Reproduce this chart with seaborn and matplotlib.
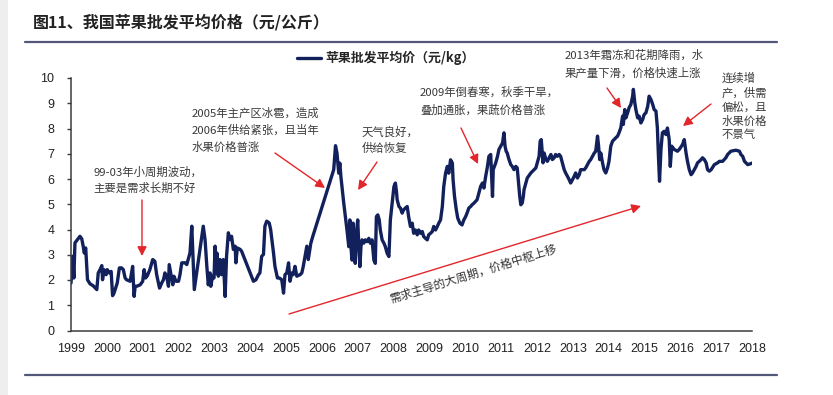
import numpy as np
import pandas as pd
import matplotlib
matplotlib.use("Agg")
import matplotlib.pyplot as plt
import seaborn as sns
from matplotlib.lines import Line2D
from matplotlib.patches import Rectangle
from matplotlib.font_manager import FontProperties

# ---------------- data (year fraction, price yuan/kg) ----------------
yr_9901 = [1999.00, 1999.05, 1999.08, 1999.11, 1999.18, 1999.25, 1999.30, 1999.34, 1999.37, 1999.41,
           1999.46, 1999.53, 1999.62, 1999.72, 1999.76, 1999.81, 1999.86, 1999.88, 1999.92, 1999.98,
           2000.01, 2000.07, 2000.12, 2000.16, 2000.20, 2000.26, 2000.29, 2000.35, 2000.41, 2000.46,
           2000.51, 2000.55, 2000.65, 2000.72, 2000.76, 2000.79, 2000.83, 2000.93, 2001.00, 2001.04,
           2001.08, 2001.13, 2001.20, 2001.28, 2001.34, 2001.39, 2001.47, 2001.53, 2001.58, 2001.62,
           2001.67, 2001.72, 2001.74, 2001.78, 2001.84, 2001.87, 2001.93]
px_9901 = [1.88, 2.94, 2.08, 3.47, 3.60, 3.73, 3.63, 3.34, 3.07, 3.27,
           2.01, 1.85, 1.77, 1.62, 2.28, 2.41, 2.57, 2.01, 2.41, 2.21,
           2.41, 2.28, 2.34, 1.38, 1.48, 1.75, 1.88, 2.48, 2.48, 2.41,
           2.08, 2.01, 1.95, 2.54, 1.35, 1.75, 1.75, 1.81, 1.95, 2.41,
           2.08, 2.17, 2.41, 2.81, 2.74, 2.21, 1.68, 1.88, 2.01, 2.28,
           2.15, 1.75, 2.61, 2.28, 1.81, 2.15, 1.95]

yr_0204 = [2002.00, 2002.04, 2002.09, 2002.18, 2002.23, 2002.27, 2002.32, 2002.37, 2002.44,
           2002.69, 2002.74, 2002.79, 2002.83, 2002.88, 2002.90, 2002.95, 2002.99,
           2003.02, 2003.05, 2003.07, 2003.11, 2003.16, 2003.20, 2003.25, 2003.30, 2003.34, 2003.39,
           2003.44, 2003.48, 2003.53, 2003.58, 2003.60, 2003.64, 2003.72, 2003.76, 2004.09, 2004.16,
           2004.23, 2004.27, 2004.32, 2004.37, 2004.41, 2004.46, 2004.53, 2004.57, 2004.65, 2004.69,
           2004.76, 2004.81, 2004.88, 2004.93, 2004.97]
px_0204 = [1.95, 2.21, 2.68, 2.68, 2.61, 2.81, 3.07, 4.13, 1.62,
           4.13, 3.60, 2.54, 1.81, 2.28, 1.75, 2.15, 2.08,
           3.34, 2.28, 3.07, 2.15, 2.81, 2.21, 2.81, 1.35, 2.94, 3.87,
           3.60, 3.73, 3.21, 3.34, 2.68, 3.27, 3.21, 3.14, 1.95, 2.01,
           2.21, 2.28, 2.94, 3.01, 4.13, 4.33, 4.26, 4.00, 3.07, 2.54,
           2.08, 2.08, 2.01, 1.48, 2.21]

yr_0508 = [2005.02, 2005.07, 2005.11, 2005.16, 2005.20, 2005.25, 2005.30, 2005.39, 2005.44, 2005.48,
           2005.53, 2005.58, 2005.62, 2005.69, 2005.74, 2006.33, 2006.38, 2006.42, 2006.47, 2006.50,
           2006.53, 2006.61, 2006.70, 2006.75, 2006.78, 2006.81, 2006.84, 2006.87, 2006.91, 2006.93,
           2006.96, 2007.00, 2007.03, 2007.06, 2007.09, 2007.12, 2007.17, 2007.21, 2007.26, 2007.31,
           2007.35, 2007.40, 2007.45, 2007.49, 2007.52, 2007.56, 2007.60, 2007.63, 2007.68, 2007.73,
           2007.77, 2007.82, 2007.87, 2007.91, 2007.96, 2008.01, 2008.05, 2008.08, 2008.10, 2008.15,
           2008.19, 2008.24, 2008.28, 2008.33, 2008.38, 2008.42, 2008.47, 2008.52, 2008.56, 2008.61,
           2008.66, 2008.70, 2008.75, 2008.80, 2008.84, 2008.89, 2008.94, 2008.98]
px_0508 = [2.28, 2.68, 1.95, 2.28, 2.21, 2.54, 2.15, 2.21, 2.28, 2.54,
           2.94, 3.34, 2.81, 3.45, 3.70, 6.37, 7.32, 7.03, 6.23, 6.63,
           6.10, 5.04, 3.98, 3.32, 4.38, 3.32, 2.79, 4.25, 3.06, 2.66,
           3.85, 4.38, 3.32, 2.53, 3.32, 3.59, 3.46, 3.59, 3.52, 3.65,
           3.46, 3.59, 2.79, 2.66, 4.51, 4.58, 4.38, 3.98, 3.59, 3.46,
           3.32, 3.06, 2.93, 4.38, 5.04, 5.70, 5.84, 5.51, 5.18, 4.91,
           4.85, 4.65, 4.78, 4.85, 4.91, 4.51, 4.12, 4.25, 3.85, 3.98,
           3.79, 3.98, 3.85, 3.92, 3.72, 3.65, 3.59, 3.79]

yr_0911 = [2009.03, 2009.08, 2009.12, 2009.17, 2009.22, 2009.26, 2009.31, 2009.36, 2009.40, 2009.45,
           2009.50, 2009.54, 2009.59, 2009.64, 2009.66, 2009.70, 2009.75, 2009.79, 2009.85, 2009.91,
           2009.96, 2010.01, 2010.05, 2010.10, 2010.15, 2010.19, 2010.24, 2010.33, 2010.43, 2010.48,
           2010.52, 2010.57, 2010.62, 2010.66, 2010.71, 2010.76, 2010.78, 2010.85, 2010.90, 2010.94,
           2010.99, 2011.04, 2011.08, 2011.11, 2011.14, 2011.17, 2011.22, 2011.27, 2011.31, 2011.36,
           2011.41, 2011.45, 2011.48, 2011.52, 2011.55, 2011.59, 2011.62, 2011.64, 2011.69, 2011.73,
           2011.83, 2011.92, 2011.97]
px_0911 = [3.85, 3.92, 4.12, 3.98, 4.12, 4.25, 4.38, 4.91, 5.70, 6.23,
           6.50, 6.23, 6.76, 6.63, 5.97, 5.31, 4.78, 4.45, 4.25, 4.18,
           4.38, 4.51, 4.65, 4.85, 4.91, 4.98, 5.04, 5.18, 5.71, 5.84,
           5.64, 6.11, 6.50, 6.90, 6.97, 5.31, 6.37, 6.64, 6.90, 7.17,
           7.30, 7.43, 7.83, 7.30, 7.10, 7.03, 6.77, 6.57, 6.50, 6.37,
           6.50, 6.44, 5.97, 5.31, 4.98, 5.05, 5.31, 5.58, 5.84, 6.04,
           6.24, 6.37, 6.44]

yr_1214 = [2012.01, 2012.06, 2012.09, 2012.12, 2012.14, 2012.17, 2012.20, 2012.25, 2012.29, 2012.34,
           2012.39, 2012.43, 2012.48, 2012.52, 2012.57, 2012.62, 2012.66, 2012.71, 2012.76, 2012.80,
           2012.85, 2012.90, 2012.94, 2012.99, 2013.04, 2013.08, 2013.13, 2013.18, 2013.22, 2013.32,
           2013.36, 2013.41, 2013.46, 2013.50, 2013.55, 2013.60, 2013.64, 2013.69, 2013.72, 2013.75,
           2013.78, 2013.83, 2013.87, 2013.92, 2013.97, 2014.01, 2014.06, 2014.11, 2014.15, 2014.20,
           2014.25, 2014.29, 2014.34, 2014.39, 2014.41, 2014.45, 2014.48, 2014.53, 2014.57, 2014.62,
           2014.67, 2014.69, 2014.73, 2014.76, 2014.81, 2014.85, 2014.90, 2014.95, 2014.99]
px_1214 = [6.64, 6.90, 7.50, 7.56, 7.17, 6.64, 7.03, 6.77, 6.70, 6.84,
           6.97, 6.77, 6.84, 6.97, 6.90, 6.97, 6.90, 6.64, 6.37, 6.24,
           6.11, 5.97, 5.84, 5.97, 6.11, 6.24, 6.04, 6.17, 6.37, 6.37,
           6.44, 6.57, 6.70, 6.77, 6.90, 7.03, 7.10, 7.70, 7.30, 6.77,
           7.03, 6.64, 6.37, 6.24, 6.44, 6.70, 7.30, 7.50, 7.56, 7.63,
           7.70, 7.83, 8.03, 8.49, 8.16, 8.75, 8.42, 8.62, 8.82, 8.95,
           9.28, 9.55, 9.02, 8.75, 8.42, 8.49, 8.22, 8.36, 8.55]

yr_1518 = [2015.04, 2015.09, 2015.13, 2015.18, 2015.23, 2015.27, 2015.32, 2015.36, 2015.39, 2015.42,
           2015.46, 2015.50, 2015.55, 2015.60, 2015.64, 2015.69, 2015.72, 2015.76, 2015.83, 2015.92,
           2015.97, 2016.06, 2016.11, 2016.16, 2016.20, 2016.25, 2016.30, 2016.34, 2016.39, 2016.44,
           2016.48, 2016.53, 2016.58, 2016.62, 2016.67, 2016.72, 2016.76, 2016.81, 2016.86, 2016.95,
           2017.04, 2017.09, 2017.18, 2017.27, 2017.32, 2017.41, 2017.55, 2017.65, 2017.69, 2017.74,
           2017.79, 2017.88, 2017.97, 2018.02]
px_1518 = [8.62, 8.88, 9.28, 9.15, 8.95, 8.75, 8.69, 8.03, 6.90, 5.91,
           7.17, 7.83, 7.89, 7.76, 8.02, 7.56, 6.50, 7.30, 7.17, 7.10,
           7.17, 7.36, 7.56, 7.03, 6.70, 6.37, 6.17, 6.24, 6.37, 6.50,
           6.64, 6.70, 6.77, 6.84, 6.77, 6.64, 6.37, 6.31, 6.37, 6.57,
           6.64, 6.70, 6.70, 6.84, 6.97, 7.10, 7.14, 7.10, 6.97, 6.90,
           6.70, 6.57, 6.61, 6.64]

year_ticks = list(range(1999, 2019))
price_ticks = list(range(0, 11))

TITLE = "图11、我国苹果批发平均价格（元/公斤）"
LEGEND = "苹果批发平均价（元/kg）"
NOTE_9903 = ["99-03年小周期波动，", "主要是需求长期不好"]
NOTE_2005 = ["2005年主产区冰雹，造成", "2006年供给紧张，且当年", "水果价格普涨"]
NOTE_2007 = ["天气良好，", "供给恢复"]
NOTE_2009 = ["2009年倒春寒，秋季干旱，", "叠加通胀，果蔬价格普涨"]
NOTE_2013 = ["2013年霜冻和花期降雨，水", "果产量下滑，价格快速上涨"]
NOTE_2016 = ["连续增", "产，供需", "偏松，且", "水果价格", "不景气"]
NOTE_TREND = "需求主导的大周期，价格中枢上移"

# ---------------- style ----------------
sns.set_theme(style="white")
CJK = ["Noto Sans CJK SC", "DejaVu Sans"]
plt.rcParams["font.family"] = CJK

NAVY = "#12215c"
RED = "#e3262b"
RULE = "#53577a"
TXT = "#3a3a3a"

W, H = 833, 395
fig = plt.figure(figsize=(W / 100, H / 100), dpi=100)
fig.patch.set_facecolor("white")


def fx(x):
    return x / W


def fy(y):
    return 1 - y / H


# light strip at left edge
fig.add_artist(Rectangle((0, 0), fx(8), 1, transform=fig.transFigure,
                         facecolor="#eeeeee", edgecolor="none", zorder=0))

ax = fig.add_axes([fx(71), fy(330.5), fx(752 - 71), (330.5 - 78) / H])
ax.set_facecolor("none")

years = yr_9901 + yr_0204 + yr_0508 + yr_0911 + yr_1214 + yr_1518
prices = px_9901 + px_0204 + px_0508 + px_0911 + px_1214 + px_1518
df = pd.DataFrame({"year": years, "price": prices})

sns.lineplot(data=df, x="year", y="price", ax=ax, sort=False, estimator=None,
             color=NAVY, linewidth=2.4, legend=False)
for ln in ax.lines:
    ln.set_solid_joinstyle("round")
    ln.set_solid_capstyle("round")

ax.set_xlim(1999, 2018)
ax.set_ylim(0, 10)
ax.set_xticks(year_ticks)
ax.set_xticklabels([str(y) for y in year_ticks])
ax.set_yticks(price_ticks)
ax.set_yticklabels([str(v) for v in price_ticks])
ax.set_xlabel("")
ax.set_ylabel("")
for s in ["top", "right"]:
    ax.spines[s].set_visible(False)
for s in ["left", "bottom"]:
    ax.spines[s].set_color("#3c3c3c")
    ax.spines[s].set_linewidth(1.1)
ax.tick_params(axis="x", direction="in", length=4, width=1, color="#3c3c3c",
               pad=9, labelsize=9, labelcolor="#222222")
ax.tick_params(axis="y", direction="out", length=3, width=1, color="#3c3c3c",
               pad=9, labelsize=9, labelcolor="#222222", left=True)
for lab in ax.get_xticklabels() + ax.get_yticklabels():
    lab.set_fontfamily("Liberation Sans")
ax.grid(False)

# legend
ax.legend(handles=[Line2D([], [], color=NAVY, lw=2.4)], labels=[LEGEND],
          loc="center", bbox_to_anchor=(fx(386), fy(58)), bbox_transform=fig.transFigure,
          frameon=False, handlelength=1.9, handletextpad=0.35, borderpad=0,
          prop=FontProperties(family=CJK, weight="bold", size=9.3))

# title and rules
fig.text(fx(33), fy(22), TITLE, ha="left", va="center", fontsize=11.5,
         fontweight="bold", color="#222222", family=CJK)
fig.add_artist(Line2D([fx(25), fx(777)], [fy(41.5), fy(41.5)], transform=fig.transFigure,
                      color=RULE, lw=1.6))
fig.add_artist(Line2D([fx(25), fx(777)], [fy(374.5), fy(374.5)], transform=fig.transFigure,
                      color=RULE, lw=1.6))


def note(x, ys, lines, size=8.2):
    for yy, t in zip(ys, lines):
        fig.text(fx(x), fy(yy), t, ha="left", va="center", fontsize=size,
                 color=TXT, family=CJK)


def arrow(x0, y0, x1, y1):
    ax.annotate("", xy=(fx(x1), fy(y1)), xytext=(fx(x0), fy(y0)),
                xycoords="figure fraction", textcoords="figure fraction",
                arrowprops=dict(arrowstyle="-|>,head_length=0.55,head_width=0.28",
                                color=RED, lw=1.0, mutation_scale=10,
                                shrinkA=0, shrinkB=0))


note(93, [172.5, 188], NOTE_9903)
arrow(142, 200, 142, 256)
note(192, [113, 130, 147], NOTE_2005)
arrow(275, 153, 325, 188)
note(362, [132, 148], NOTE_2007)
arrow(377, 162, 358, 190)
note(420, [92, 110], NOTE_2009)
arrow(461, 128, 478, 164)
note(565, [55, 73], NOTE_2013)
arrow(607, 88, 621, 108)
note(722, [78, 93, 107, 121, 135], NOTE_2016)
arrow(711, 104, 683, 126)

# long-term trend arrow
arrow(289, 314, 641, 206)
fig.text(fx(473), fy(274), NOTE_TREND, ha="center", va="center", rotation=17,
         rotation_mode="anchor", fontsize=8.4, color="#333333", family=CJK)

fig.savefig("out.png", dpi=100)
